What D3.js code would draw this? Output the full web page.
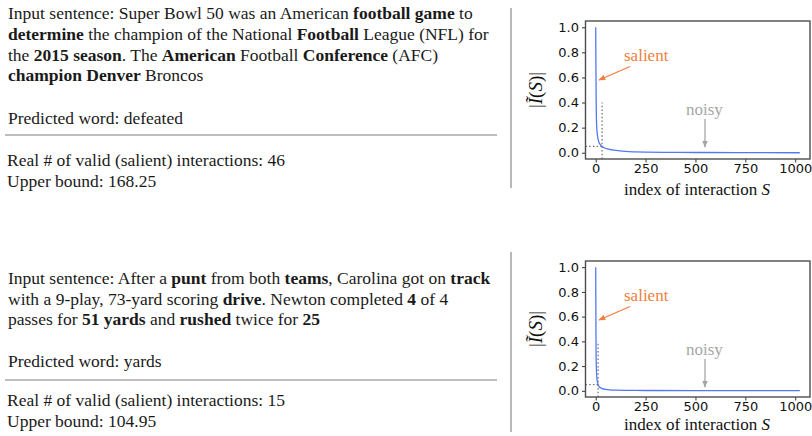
<!DOCTYPE html>
<html>
<head>
<meta charset="utf-8">
<script src="https://cdn.jsdelivr.net/npm/d3@7/dist/d3.min.js"></script>
<style>
  html, body { margin: 0; padding: 0; background: #fff; }
  svg { display: block; }
</style>
</head>
<body>
<svg id="fig" width="812" height="436"></svg>
<script>
// ---- sentences (segments: [text, bold]) ----
const sentenceA = [
  [["Input sentence: Super Bowl 50 was an American ", 0], ["football game", 1], [" to", 0]],
  [["determine", 1], [" the champion of the National ", 0], ["Football", 1], [" League (NFL) for", 0]],
  [["the ", 0], ["2015 season", 1], [". The ", 0], ["American", 1], [" Football ", 0], ["Conference", 1], [" (AFC)", 0]],
  [["champion Denver", 1], [" Broncos", 0]]
];
const sentenceB = [
  [["Input sentence: After a ", 0], ["punt", 1], [" from both ", 0], ["teams", 1], [", Carolina got on ", 0], ["track", 1]],
  [["with a 9-play, 73-yard scoring ", 0], ["drive", 1], [". Newton completed ", 0], ["4", 1], [" of 4", 0]],
  [["passes for ", 0], ["51 yards", 1], [" and ", 0], ["rushed", 1], [" twice for ", 0], ["25", 1]]
];
const predictedA = "defeated";
const predictedB = "yards";
const validCountA = 46, upperBoundA = "168.25";
const validCountB = 15, upperBoundB = "104.95";

// ---- sorted |I(S)| curves: [index, value] ----
const curveA = [
  [0, 1.0], [1, 0.72], [2, 0.48], [3, 0.33], [4, 0.25], [6, 0.18], [9, 0.135],
  [13, 0.1], [18, 0.078], [24, 0.062], [32, 0.05], [42, 0.04], [55, 0.032],
  [70, 0.026], [90, 0.02], [120, 0.014], [150, 0.01], [200, 0.007], [250, 0.005],
  [350, 0.003], [500, 0.002], [700, 0.001], [1023, 0.0]
];
const curveB = [
  [0, 1.0], [1, 0.6], [2, 0.25], [3, 0.21], [4, 0.15], [6, 0.1], [9, 0.068],
  [12, 0.05], [16, 0.036], [22, 0.026], [32, 0.018], [50, 0.011], [70, 0.007],
  [100, 0.005], [200, 0.003], [500, 0.002], [1023, 0.001]
];
const thresholdA = { index: 32, value: 0.05, top: 0.4 };
const thresholdB = { index: 12, value: 0.05, top: 0.4 };

const xTicks = [0, 250, 500, 750, 1000];
const yTicks = [0.0, 0.2, 0.4, 0.6, 0.8, 1.0];
const xDomain = [-51.15, 1074.15];
const yDomain = [-0.05, 1.05];

const svg = d3.select("#fig");
const SERIF = "'Liberation Serif', 'Times New Roman', serif";
const SANS = "'DejaVu Sans', sans-serif";

svg.append("rect").attr("width", 812).attr("height", 436).attr("fill", "#fff");

// ---- left text panel ----
function richLine(g, segs, x, y) {
  const t = g.append("text").attr("x", x).attr("y", y)
    .attr("font-family", SERIF).attr("font-size", 17.5).attr("fill", "#1a1a1a")
    .attr("xml:space", "preserve");
  segs.forEach(([s, b]) => {
    t.append("tspan").attr("font-weight", b ? "bold" : "normal").text(s);
  });
}

function textPanel(cfg) {
  const g = svg.append("g");
  cfg.lines.forEach((segs, i) => richLine(g, segs, 8, cfg.baselines[i]));
  richLine(g, [["Predicted word: " + cfg.predicted, 0]], 8, cfg.predY);
  g.append("line").attr("x1", 5).attr("x2", 497).attr("y1", cfg.ruleY).attr("y2", cfg.ruleY)
    .attr("stroke", "#a8a8a8").attr("stroke-width", 1.5);
  richLine(g, [["Real # of valid (salient) interactions: " + cfg.count, 0]], 7, cfg.realY);
  richLine(g, [["Upper bound: " + cfg.bound, 0]], 7, cfg.realY + 21);
  svg.append("line").attr("x1", 511).attr("x2", 511).attr("y1", cfg.sepY[0]).attr("y2", cfg.sepY[1])
    .attr("stroke", "#a0a0a0").attr("stroke-width", 1.5);
}

textPanel({ lines: sentenceA, baselines: [19, 40, 61, 81], predicted: predictedA, predY: 123.5,
  ruleY: 135, count: validCountA, bound: upperBoundA, realY: 165.5, sepY: [8, 188] });
textPanel({ lines: sentenceB, baselines: [283.5, 304.5, 325], predicted: predictedB, predY: 366.5,
  ruleY: 380, count: validCountB, bound: upperBoundB, realY: 405.5, sepY: [252, 432] });

// ---- arrowheads ----
const defs = svg.append("defs");
function marker(id, color) {
  defs.append("marker").attr("id", id).attr("viewBox", "0 0 10 10")
    .attr("refX", 9).attr("refY", 5).attr("markerWidth", 7).attr("markerHeight", 7)
    .attr("markerUnits", "userSpaceOnUse").attr("orient", "auto")
    .append("path").attr("d", "M0,1 L10,5 L0,9 Z").attr("fill", color);
}
marker("headOrange", "#f0803c");
marker("headGray", "#a6a6a6");

// ---- curve panels ----
function curvePanel(cfg) {
  const x = d3.scaleLinear().domain(xDomain).range([585.5, 810]);
  const y = d3.scaleLinear().domain(yDomain).range([cfg.bottom, cfg.top]);
  const g = svg.append("g");

  const xa = g.append("g").attr("transform", `translate(0,${cfg.bottom})`)
    .call(d3.axisBottom(x).tickValues(xTicks).tickFormat(d3.format("d")).tickSize(3.5).tickPadding(1));
  const ya = g.append("g").attr("transform", `translate(585.5,0)`)
    .call(d3.axisLeft(y).tickValues(yTicks).tickFormat(d3.format(".1f")).tickSize(3.5).tickPadding(3));
  [xa, ya].forEach(a => {
    a.select(".domain").remove();
    a.selectAll("line").attr("stroke", "#333");
    a.selectAll("text").attr("font-family", SANS).attr("font-size", 13).attr("fill", "#111");
  });

  // threshold guides
  const th = cfg.threshold;
  g.append("line").attr("x1", x(th.index)).attr("x2", x(th.index))
    .attr("y1", y(yDomain[0])).attr("y2", y(th.top))
    .attr("stroke", "#777").attr("stroke-width", 1.3).attr("stroke-dasharray", "1.5,2.2");
  g.append("line").attr("x1", x(xDomain[0])).attr("x2", x(th.index))
    .attr("y1", y(th.value)).attr("y2", y(th.value))
    .attr("stroke", "#777").attr("stroke-width", 1.3).attr("stroke-dasharray", "1.5,2.2");

  const line = d3.line().x(d => x(d[0])).y(d => y(d[1])).curve(d3.curveMonotoneX);
  g.append("path").datum(cfg.data).attr("d", line)
    .attr("fill", "none").attr("stroke", "#5378f0").attr("stroke-width", 1.3);

  // frame
  g.append("rect").attr("x", 585.5).attr("y", cfg.top).attr("width", 810 - 585.5)
    .attr("height", cfg.bottom - cfg.top).attr("fill", "none").attr("stroke", "#4d4d4d").attr("stroke-width", 1.4);

  // annotations
  g.append("text").attr("x", 624).attr("y", cfg.top + 40).attr("font-family", SERIF)
    .attr("font-size", 17).attr("fill", "#f0803c").text("salient");
  g.append("line").attr("x1", 630).attr("y1", cfg.top + 45.5).attr("x2", 599).attr("y2", cfg.top + 59)
    .attr("stroke", "#f0803c").attr("stroke-width", 1.3).attr("marker-end", "url(#headOrange)");
  g.append("text").attr("x", 686).attr("y", cfg.top + 94).attr("font-family", SERIF)
    .attr("font-size", 17).attr("fill", "#a6a6a6").text("noisy");
  g.append("line").attr("x1", 705).attr("y1", cfg.top + 98).attr("x2", 705).attr("y2", cfg.top + 126)
    .attr("stroke", "#a6a6a6").attr("stroke-width", 1.3).attr("marker-end", "url(#headGray)");

  // axis titles
  const yl = g.append("text").attr("transform", `translate(542,${(cfg.top + cfg.bottom) / 2}) rotate(-90)`)
    .attr("text-anchor", "middle").attr("font-family", SERIF).attr("font-size", 19).attr("fill", "#111");
  yl.append("tspan").text("|");
  yl.append("tspan").attr("font-style", "italic").text("\u0128");
  yl.append("tspan").text("(");
  yl.append("tspan").attr("font-style", "italic").text("S");
  yl.append("tspan").text(")|");

  const xl = g.append("text").attr("x", 697).attr("y", cfg.xLabelY).attr("text-anchor", "middle")
    .attr("font-family", SERIF).attr("font-size", 17).attr("fill", "#111");
  xl.append("tspan").text("index of interaction ");
  xl.append("tspan").attr("font-style", "italic").text("S");
}

curvePanel({ top: 21, bottom: 159, data: curveA, threshold: thresholdA, xLabelY: 195 });
curvePanel({ top: 261, bottom: 397, data: curveB, threshold: thresholdB, xLabelY: 430 });
</script>
</body>
</html>
